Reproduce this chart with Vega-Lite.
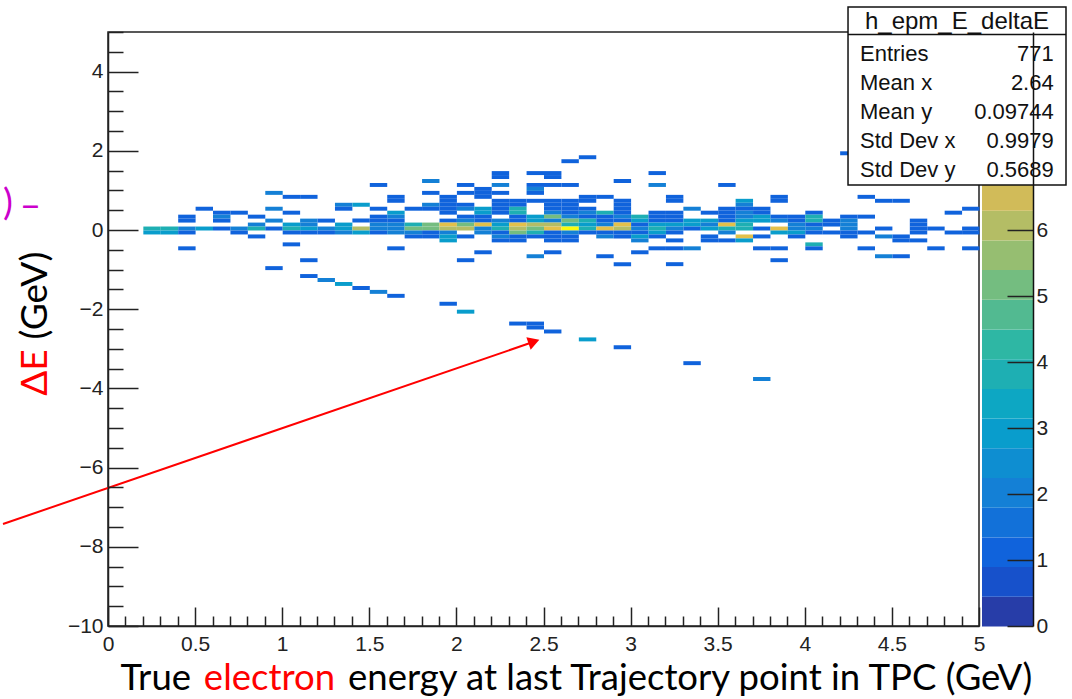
{
  "$schema": "https://vega.github.io/schema/vega-lite/v6.json",
  "background": "white",
  "padding": {"left": 1, "top": 6, "right": 4, "bottom": 0},
  "bounds": "flush",
  "spacing": 3,
  "config": {
    "view": {"stroke": "#222", "strokeWidth": 1.5},
    "axis": {
      "labelFont": "Liberation Sans", "labelFontSize": 21, "labelColor": "#222",
      "domainColor": "#222", "domainWidth": 1.5, "tickColor": "#222", "tickWidth": 1.5,
      "grid": false, "labelFlush": false, "labelOverlap": false, "title": null
    },
    "text": {"font": "Liberation Sans"}
  },
  "datasets": {
    "cells": [
      {"x":0.2,"y":0,"n":4},{"x":0.2,"y":-0.1,"n":3},
      {"x":0.3,"y":0,"n":4},{"x":0.3,"y":-0.1,"n":3},
      {"x":0.4,"y":0.3,"n":1},{"x":0.4,"y":0.2,"n":1},{"x":0.4,"y":0,"n":2},{"x":0.4,"y":-0.1,"n":1},{"x":0.4,"y":-0.5,"n":1},
      {"x":0.5,"y":0.5,"n":1},{"x":0.5,"y":0,"n":3},
      {"x":0.6,"y":0.4,"n":1},{"x":0.6,"y":0.3,"n":2},{"x":0.6,"y":0.2,"n":1},{"x":0.6,"y":0,"n":1},
      {"x":0.7,"y":0.4,"n":1},{"x":0.7,"y":0,"n":2},{"x":0.7,"y":-0.1,"n":1},
      {"x":0.8,"y":0.3,"n":1},{"x":0.8,"y":0.1,"n":2},{"x":0.8,"y":0,"n":4},{"x":0.8,"y":-0.2,"n":1},
      {"x":0.9,"y":0.9,"n":2},{"x":0.9,"y":0.5,"n":2},{"x":0.9,"y":0.2,"n":2},{"x":0.9,"y":0,"n":1},{"x":0.9,"y":-1,"n":1},
      {"x":1,"y":0.8,"n":1},{"x":1,"y":0.4,"n":1},{"x":1,"y":0.1,"n":3},{"x":1,"y":0,"n":4},{"x":1,"y":-0.1,"n":1},{"x":1,"y":-0.4,"n":1},
      {"x":1.1,"y":0.8,"n":1},{"x":1.1,"y":0.2,"n":2},{"x":1.1,"y":0.1,"n":2},{"x":1.1,"y":0,"n":3},{"x":1.1,"y":-0.1,"n":1},{"x":1.1,"y":-0.8,"n":1},{"x":1.1,"y":-1.2,"n":1},
      {"x":1.2,"y":0.2,"n":1},{"x":1.2,"y":0,"n":2},{"x":1.2,"y":-0.1,"n":1},{"x":1.2,"y":-1.3,"n":2},
      {"x":1.3,"y":0.6,"n":2},{"x":1.3,"y":0.5,"n":1},{"x":1.3,"y":0.1,"n":3},{"x":1.3,"y":0,"n":3},{"x":1.3,"y":-0.1,"n":2},{"x":1.3,"y":-1.4,"n":3},
      {"x":1.4,"y":0.6,"n":3},{"x":1.4,"y":0.2,"n":1},{"x":1.4,"y":0,"n":6},{"x":1.4,"y":-0.1,"n":3},{"x":1.4,"y":-1.5,"n":1},
      {"x":1.5,"y":1.1,"n":1},{"x":1.5,"y":0.5,"n":1},{"x":1.5,"y":0.3,"n":1},{"x":1.5,"y":0.2,"n":1},{"x":1.5,"y":0.1,"n":2},{"x":1.5,"y":0,"n":2},{"x":1.5,"y":-0.1,"n":1},{"x":1.5,"y":-1.6,"n":2},
      {"x":1.6,"y":0.8,"n":1},{"x":1.6,"y":0.7,"n":1},{"x":1.6,"y":0.4,"n":3},{"x":1.6,"y":0.3,"n":2},{"x":1.6,"y":0.2,"n":1},{"x":1.6,"y":0.1,"n":2},{"x":1.6,"y":0,"n":2},{"x":1.6,"y":-0.1,"n":2},{"x":1.6,"y":-0.5,"n":1},{"x":1.6,"y":-1.7,"n":1},
      {"x":1.7,"y":0.5,"n":1},{"x":1.7,"y":0.1,"n":4},{"x":1.7,"y":0,"n":5},{"x":1.7,"y":-0.1,"n":2},{"x":1.7,"y":-0.2,"n":1},
      {"x":1.8,"y":1.2,"n":2},{"x":1.8,"y":0.9,"n":1},{"x":1.8,"y":0.6,"n":2},{"x":1.8,"y":0.5,"n":1},{"x":1.8,"y":0.1,"n":5},{"x":1.8,"y":0,"n":5},{"x":1.8,"y":-0.1,"n":1},{"x":1.8,"y":-0.2,"n":1},
      {"x":1.9,"y":0.8,"n":1},{"x":1.9,"y":0.7,"n":1},{"x":1.9,"y":0.6,"n":1},{"x":1.9,"y":0.5,"n":1},{"x":1.9,"y":0.4,"n":1},{"x":1.9,"y":0.2,"n":1},{"x":1.9,"y":0.1,"n":7},{"x":1.9,"y":0,"n":6},{"x":1.9,"y":-0.1,"n":2},{"x":1.9,"y":-0.2,"n":3},{"x":1.9,"y":-0.3,"n":3},{"x":1.9,"y":-1.9,"n":1},
      {"x":2,"y":1.1,"n":1},{"x":2,"y":0.9,"n":1},{"x":2,"y":0.6,"n":1},{"x":2,"y":0.5,"n":2},{"x":2,"y":0.3,"n":1},{"x":2,"y":0.2,"n":2},{"x":2,"y":0.1,"n":5},{"x":2,"y":0,"n":6},{"x":2,"y":-0.2,"n":1},{"x":2,"y":-0.8,"n":1},{"x":2,"y":-2.1,"n":3},
      {"x":2.1,"y":1,"n":1},{"x":2.1,"y":0.9,"n":1},{"x":2.1,"y":0.8,"n":1},{"x":2.1,"y":0.5,"n":3},{"x":2.1,"y":0.4,"n":3},{"x":2.1,"y":0.3,"n":1},{"x":2.1,"y":0.2,"n":1},{"x":2.1,"y":0.1,"n":7},{"x":2.1,"y":0,"n":2},{"x":2.1,"y":-0.1,"n":2},{"x":2.1,"y":-0.6,"n":1},
      {"x":2.2,"y":1.4,"n":1},{"x":2.2,"y":1.3,"n":1},{"x":2.2,"y":1.1,"n":2},{"x":2.2,"y":0.9,"n":1},{"x":2.2,"y":0.7,"n":1},{"x":2.2,"y":0.6,"n":1},{"x":2.2,"y":0.5,"n":1},{"x":2.2,"y":0.4,"n":1},{"x":2.2,"y":0.2,"n":2},{"x":2.2,"y":0.1,"n":3},{"x":2.2,"y":0,"n":4},{"x":2.2,"y":-0.1,"n":1},{"x":2.2,"y":-0.2,"n":2},{"x":2.2,"y":-0.3,"n":1},
      {"x":2.3,"y":0.7,"n":1},{"x":2.3,"y":0.6,"n":1},{"x":2.3,"y":0.5,"n":4},{"x":2.3,"y":0.4,"n":4},{"x":2.3,"y":0.3,"n":1},{"x":2.3,"y":0.2,"n":1},{"x":2.3,"y":0.1,"n":7},{"x":2.3,"y":0,"n":6},{"x":2.3,"y":-0.1,"n":5},{"x":2.3,"y":-0.2,"n":1},{"x":2.3,"y":-0.3,"n":1},{"x":2.3,"y":-2.4,"n":1},
      {"x":2.4,"y":1.4,"n":1},{"x":2.4,"y":1.1,"n":1},{"x":2.4,"y":1,"n":2},{"x":2.4,"y":0.9,"n":1},{"x":2.4,"y":0.7,"n":1},{"x":2.4,"y":0.3,"n":3},{"x":2.4,"y":0.2,"n":3},{"x":2.4,"y":0.1,"n":6},{"x":2.4,"y":0,"n":5},{"x":2.4,"y":-0.1,"n":4},{"x":2.4,"y":-0.2,"n":1},{"x":2.4,"y":-0.7,"n":2},{"x":2.4,"y":-2.4,"n":1},{"x":2.4,"y":-2.5,"n":1},
      {"x":2.5,"y":1.4,"n":1},{"x":2.5,"y":1.3,"n":1},{"x":2.5,"y":1.1,"n":1},{"x":2.5,"y":0.7,"n":1},{"x":2.5,"y":0.6,"n":1},{"x":2.5,"y":0.5,"n":1},{"x":2.5,"y":0.4,"n":2},{"x":2.5,"y":0.3,"n":5},{"x":2.5,"y":0.2,"n":2},{"x":2.5,"y":0.1,"n":6},{"x":2.5,"y":0,"n":7},{"x":2.5,"y":-0.1,"n":1},{"x":2.5,"y":-0.2,"n":1},{"x":2.5,"y":-0.3,"n":1},{"x":2.5,"y":-0.6,"n":1},{"x":2.5,"y":-2.6,"n":1},
      {"x":2.6,"y":1.7,"n":1},{"x":2.6,"y":1.1,"n":1},{"x":2.6,"y":0.7,"n":1},{"x":2.6,"y":0.6,"n":1},{"x":2.6,"y":0.5,"n":1},{"x":2.6,"y":0.4,"n":1},{"x":2.6,"y":0.3,"n":2},{"x":2.6,"y":0.2,"n":5},{"x":2.6,"y":0.1,"n":4},{"x":2.6,"y":0,"n":9},{"x":2.6,"y":-0.1,"n":2},{"x":2.6,"y":-0.2,"n":1},{"x":2.6,"y":-0.3,"n":1},
      {"x":2.7,"y":1.8,"n":1},{"x":2.7,"y":0.8,"n":1},{"x":2.7,"y":0.7,"n":1},{"x":2.7,"y":0.5,"n":1},{"x":2.7,"y":0.4,"n":2},{"x":2.7,"y":0.3,"n":1},{"x":2.7,"y":0.2,"n":4},{"x":2.7,"y":0.1,"n":3},{"x":2.7,"y":0,"n":4},{"x":2.7,"y":-0.1,"n":1},{"x":2.7,"y":-2.8,"n":3},
      {"x":2.8,"y":0.8,"n":1},{"x":2.8,"y":0.4,"n":4},{"x":2.8,"y":0.3,"n":1},{"x":2.8,"y":0.2,"n":1},{"x":2.8,"y":0.1,"n":2},{"x":2.8,"y":0,"n":7},{"x":2.8,"y":-0.1,"n":1},{"x":2.8,"y":-0.2,"n":2},{"x":2.8,"y":-0.7,"n":1},
      {"x":2.9,"y":1.2,"n":1},{"x":2.9,"y":0.7,"n":1},{"x":2.9,"y":0.6,"n":1},{"x":2.9,"y":0.5,"n":1},{"x":2.9,"y":0.4,"n":1},{"x":2.9,"y":0.3,"n":2},{"x":2.9,"y":0.2,"n":1},{"x":2.9,"y":0.1,"n":7},{"x":2.9,"y":0,"n":6},{"x":2.9,"y":-0.1,"n":1},{"x":2.9,"y":-0.2,"n":1},{"x":2.9,"y":-0.9,"n":1},{"x":2.9,"y":-3,"n":1},
      {"x":3,"y":0.3,"n":4},{"x":3,"y":0.2,"n":3},{"x":3,"y":0.1,"n":1},{"x":3,"y":0,"n":2},{"x":3,"y":-0.1,"n":1},{"x":3,"y":-0.2,"n":3},{"x":3,"y":-0.3,"n":2},{"x":3,"y":-0.6,"n":1},
      {"x":3.1,"y":1.4,"n":1},{"x":3.1,"y":1.1,"n":2},{"x":3.1,"y":0.4,"n":1},{"x":3.1,"y":0.3,"n":1},{"x":3.1,"y":0.2,"n":1},{"x":3.1,"y":0.1,"n":3},{"x":3.1,"y":0,"n":4},{"x":3.1,"y":-0.1,"n":3},{"x":3.1,"y":-0.2,"n":1},{"x":3.1,"y":-0.5,"n":1},
      {"x":3.2,"y":0.8,"n":1},{"x":3.2,"y":0.7,"n":1},{"x":3.2,"y":0.4,"n":1},{"x":3.2,"y":0.3,"n":1},{"x":3.2,"y":0.2,"n":1},{"x":3.2,"y":0.1,"n":3},{"x":3.2,"y":0,"n":2},{"x":3.2,"y":-0.1,"n":1},{"x":3.2,"y":-0.3,"n":1},{"x":3.2,"y":-0.5,"n":1},{"x":3.2,"y":-0.9,"n":1},
      {"x":3.3,"y":0.5,"n":2},{"x":3.3,"y":0.2,"n":3},{"x":3.3,"y":0.1,"n":3},{"x":3.3,"y":0,"n":1},{"x":3.3,"y":-0.5,"n":2},{"x":3.3,"y":-3.4,"n":1},
      {"x":3.4,"y":0.4,"n":1},{"x":3.4,"y":0.2,"n":3},{"x":3.4,"y":0.1,"n":2},{"x":3.4,"y":0,"n":3},{"x":3.4,"y":-0.2,"n":1},{"x":3.4,"y":-0.3,"n":1},
      {"x":3.5,"y":1.1,"n":1},{"x":3.5,"y":0.5,"n":1},{"x":3.5,"y":0.4,"n":1},{"x":3.5,"y":0.3,"n":1},{"x":3.5,"y":0.2,"n":1},{"x":3.5,"y":0.1,"n":7},{"x":3.5,"y":0,"n":4},{"x":3.5,"y":-0.1,"n":2},{"x":3.5,"y":-0.3,"n":1},
      {"x":3.6,"y":0.7,"n":3},{"x":3.6,"y":0.6,"n":2},{"x":3.6,"y":0.5,"n":1},{"x":3.6,"y":0.4,"n":2},{"x":3.6,"y":0.3,"n":2},{"x":3.6,"y":0.2,"n":3},{"x":3.6,"y":0.1,"n":4},{"x":3.6,"y":0,"n":4},{"x":3.6,"y":-0.2,"n":7},{"x":3.6,"y":-0.3,"n":3},
      {"x":3.7,"y":0.5,"n":1},{"x":3.7,"y":0.4,"n":1},{"x":3.7,"y":0.3,"n":3},{"x":3.7,"y":0.2,"n":3},{"x":3.7,"y":0,"n":1},{"x":3.7,"y":-0.2,"n":1},{"x":3.7,"y":-0.5,"n":1},{"x":3.7,"y":-3.8,"n":2},
      {"x":3.8,"y":0.8,"n":1},{"x":3.8,"y":0.7,"n":1},{"x":3.8,"y":0.3,"n":1},{"x":3.8,"y":0.2,"n":2},{"x":3.8,"y":0,"n":7},{"x":3.8,"y":-0.1,"n":3},{"x":3.8,"y":-0.5,"n":1},{"x":3.8,"y":-0.8,"n":1},
      {"x":3.9,"y":0.3,"n":1},{"x":3.9,"y":0.2,"n":1},{"x":3.9,"y":0.1,"n":2},{"x":3.9,"y":0,"n":2},{"x":3.9,"y":-0.1,"n":3},{"x":3.9,"y":-0.2,"n":1},
      {"x":4,"y":0.4,"n":1},{"x":4,"y":0.3,"n":4},{"x":4,"y":0.2,"n":4},{"x":4,"y":0.1,"n":1},{"x":4,"y":0,"n":2},{"x":4,"y":-0.1,"n":1},{"x":4,"y":-0.4,"n":4},{"x":4,"y":-0.5,"n":1},
      {"x":4.1,"y":0.2,"n":1},{"x":4.1,"y":0.1,"n":1},{"x":4.1,"y":-0.1,"n":1},
      {"x":4.2,"y":1.9,"n":1},{"x":4.2,"y":0.3,"n":1},{"x":4.2,"y":0.2,"n":2},{"x":4.2,"y":0.1,"n":2},{"x":4.2,"y":0,"n":2},{"x":4.2,"y":-0.1,"n":1},{"x":4.2,"y":-0.2,"n":1},
      {"x":4.3,"y":0.8,"n":1},{"x":4.3,"y":0.3,"n":1},{"x":4.3,"y":-0.1,"n":1},{"x":4.3,"y":-0.5,"n":1},
      {"x":4.4,"y":0.7,"n":1},{"x":4.4,"y":0,"n":1},{"x":4.4,"y":-0.2,"n":2},{"x":4.4,"y":-0.7,"n":2},
      {"x":4.5,"y":0.7,"n":1},{"x":4.5,"y":-0.2,"n":1},{"x":4.5,"y":-0.3,"n":1},{"x":4.5,"y":-0.7,"n":1},
      {"x":4.6,"y":0.2,"n":1},{"x":4.6,"y":0.1,"n":1},{"x":4.6,"y":0,"n":1},{"x":4.6,"y":-0.1,"n":1},{"x":4.6,"y":-0.3,"n":1},
      {"x":4.7,"y":0,"n":1},{"x":4.7,"y":-0.5,"n":1},
      {"x":4.8,"y":0.4,"n":1},{"x":4.8,"y":-0.1,"n":1},
      {"x":4.9,"y":0.5,"n":1},{"x":4.9,"y":0,"n":1},{"x":4.9,"y":-0.1,"n":1},{"x":4.9,"y":-0.5,"n":1}
    ],
    "bands": [
      {"z":0},{"z":0.45},{"z":0.9},{"z":1.35},{"z":1.8},{"z":2.25},{"z":2.7},{"z":3.15},{"z":3.6},{"z":4.05},
      {"z":4.5},{"z":4.95},{"z":5.4},{"z":5.85},{"z":6.3},{"z":6.75},{"z":7.2},{"z":7.65},{"z":8.1},{"z":8.55}
    ]
  },
  "hconcat": [
    {
      "width": 871,
      "height": 594,
      "layer": [
        {
          "data": {"name": "cells"},
          "mark": {"type": "rect"},
          "encoding": {
            "x": {
              "field": "x", "type": "quantitative", "bin": {"binned": true, "step": 0.1},
              "scale": {"domain": [0, 5], "nice": false, "zero": false},
              "axis": {
                "values": [0,0.1,0.2,0.3,0.4,0.5,0.6,0.7,0.8,0.9,1,1.1,1.2,1.3,1.4,1.5,1.6,1.7,1.8,1.9,2,2.1,2.2,2.3,2.4,2.5,2.6,2.7,2.8,2.9,3,3.1,3.2,3.3,3.4,3.5,3.6,3.7,3.8,3.9,4,4.1,4.2,4.3,4.4,4.5,4.6,4.7,4.8,4.9,5],
                "format": "~g",
                "labelExpr": "abs(datum.value*2 - round(datum.value*2)) < 0.001 ? datum.label : ''",
                "tickSize": {"condition": {"test": "abs(datum.value*2 - round(datum.value*2)) < 0.001", "value": -19}, "value": -10},
                "labelPadding": 26
              }
            },
            "y": {
              "field": "y", "type": "quantitative", "bin": {"binned": true, "step": 0.1},
              "scale": {"domain": [-10, 5], "nice": false, "zero": false},
              "axis": {
                "values": [-10,-9.5,-9,-8.5,-8,-7.5,-7,-6.5,-6,-5.5,-5,-4.5,-4,-3.5,-3,-2.5,-2,-1.5,-1,-0.5,0,0.5,1,1.5,2,2.5,3,3.5,4,4.5,5],
                "format": "~g",
                "labelExpr": "abs(datum.value/2 - round(datum.value/2)) < 0.001 ? datum.label : ''",
                "tickSize": {"condition": {"test": "abs(datum.value/2 - round(datum.value/2)) < 0.001", "value": -30}, "value": -15},
                "labelPadding": 35
              }
            },
            "color": {
              "field": "n", "type": "quantitative",
              "scale": {
                "type": "threshold",
                "domain": [0.45,0.9,1.35,1.8,2.25,2.7,3.15,3.6,4.05,4.5,4.95,5.4,5.85,6.3,6.75,7.2,7.65,8.1,8.55],
                "range": ["#273da8","#1751cb","#1063dc","#1271d9","#1480d6","#0e8ed1","#099dcc","#0da7c3","#1eafb3","#2eb7a4","#52ba91","#74bd80","#96be71","#b4bd65","#d1bb59","#e3c04a","#f5c63a","#fdd32a","#fbe81c","#f9fb0e"]
              },
              "legend": null
            }
          }
        },
        {
          "data": {"values": [{}]},
          "mark": {"type": "rule", "color": "#ff0000", "strokeWidth": 2},
          "encoding": {
            "x": {"datum": -0.6028, "type": "quantitative"},
            "y": {"datum": -7.424, "type": "quantitative"},
            "x2": {"datum": 2.44},
            "y2": {"datum": -2.83}
          }
        },
        {
          "data": {"values": [{}]},
          "mark": {"type": "point", "shape": "triangle-right", "filled": true, "color": "#ff0000", "opacity": 1, "size": 175, "angle": 341},
          "encoding": {
            "x": {"datum": 2.445, "type": "quantitative"},
            "y": {"datum": -2.82, "type": "quantitative"}
          }
        },
        {
          "data": {"values": [{}]},
          "mark": {"type": "text", "text": "ΔE", "angle": 270, "font": "Lato", "fontSize": 37, "color": "#ff0000", "align": "center", "baseline": "alphabetic"},
          "encoding": {
            "x": {"datum": -0.353, "type": "quantitative"},
            "y": {"datum": -3.598, "type": "quantitative"}
          }
        },
        {
          "data": {"values": [{}]},
          "mark": {"type": "text", "text": "(GeV)", "angle": 270, "font": "Lato", "fontSize": 37, "color": "#000000", "align": "center", "baseline": "alphabetic"},
          "encoding": {
            "x": {"datum": -0.353, "type": "quantitative"},
            "y": {"datum": -1.654, "type": "quantitative"}
          }
        },
        {
          "data": {"values": [{}]},
          "mark": {"type": "text", "text": "True", "font": "Lato", "fontSize": 36.5, "color": "#000000", "align": "right", "baseline": "alphabetic"},
          "encoding": {
            "x": {"datum": 0.4765, "type": "quantitative"},
            "y": {"datum": -11.62, "type": "quantitative"}
          }
        },
        {
          "data": {"values": [{}]},
          "mark": {"type": "text", "text": "electron", "font": "Lato", "fontSize": 36.5, "color": "#ff0000", "align": "center", "baseline": "alphabetic"},
          "encoding": {
            "x": {"datum": 0.9271, "type": "quantitative"},
            "y": {"datum": -11.62, "type": "quantitative"}
          }
        },
        {
          "data": {"values": [{}]},
          "mark": {"type": "text", "text": "energy at last Trajectory point in TPC (GeV)", "font": "Lato", "fontSize": 36.5, "color": "#000000", "align": "left", "baseline": "alphabetic"},
          "encoding": {
            "x": {"datum": 1.3777, "type": "quantitative"},
            "y": {"datum": -11.62, "type": "quantitative"}
          }
        },
        {
          "data": {"values": [{}]},
          "mark": {"type": "text", "text": ")", "font": "Lato", "fontSize": 37, "color": "#cc00cc", "align": "left", "baseline": "middle"},
          "encoding": {
            "x": {"datum": -0.6028, "type": "quantitative"},
            "y": {"datum": 0.657, "type": "quantitative"}
          }
        },
        {
          "data": {"values": [{}]},
          "mark": {"type": "text", "text": "–", "font": "Lato", "fontSize": 37, "color": "#cc00cc", "align": "center", "baseline": "alphabetic"},
          "encoding": {
            "x": {"datum": -0.4449, "type": "quantitative"},
            "y": {"datum": 0.303, "type": "quantitative"}
          }
        }
      ]
    },
    {
      "width": 51,
      "height": 594,
      "view": {"stroke": null},
      "layer": [
        {
          "data": {"name": "bands"},
          "mark": {"type": "rect"},
          "encoding": {
            "x": {"datum": 0, "type": "quantitative", "scale": {"domain": [0, 1], "nice": false, "zero": false}, "axis": null},
            "x2": {"datum": 1},
            "y": {
              "field": "z", "type": "quantitative", "bin": {"binned": true, "step": 0.45},
              "scale": {"domain": [0, 9], "nice": false, "zero": false},
              "axis": {"orient": "right", "values": [0,1,2,3,4,5,6], "format": "d", "tickSize": -26, "labelPadding": 29, "domainColor": "#111"}
            },
            "color": {
              "field": "z", "type": "quantitative",
              "scale": {
                "type": "threshold",
                "domain": [0.45,0.9,1.35,1.8,2.25,2.7,3.15,3.6,4.05,4.5,4.95,5.4,5.85,6.3,6.75,7.2,7.65,8.1,8.55],
                "range": ["#273da8","#1751cb","#1063dc","#1271d9","#1480d6","#0e8ed1","#099dcc","#0da7c3","#1eafb3","#2eb7a4","#52ba91","#74bd80","#96be71","#b4bd65","#d1bb59","#e3c04a","#f5c63a","#fdd32a","#fbe81c","#f9fb0e"]
              },
              "legend": null
            }
          }
        },
        {
          "data": {"values": [{}]},
          "mark": {"type": "rect", "fill": "white", "stroke": "#111", "strokeWidth": 1.5},
          "encoding": {
            "x": {"datum": -2.627, "type": "quantitative"},
            "x2": {"datum": 1.647},
            "y": {"datum": 9.379, "type": "quantitative"},
            "y2": {"datum": 6.682}
          }
        },
        {
          "data": {"values": [{}]},
          "mark": {"type": "rule", "color": "#111", "strokeWidth": 1.5},
          "encoding": {
            "x": {"datum": -2.627, "type": "quantitative"},
            "x2": {"datum": 1.647},
            "y": {"datum": 8.962, "type": "quantitative"}
          }
        },
        {
          "data": {"values": [{}]},
          "mark": {"type": "text", "text": "h_epm_E_deltaE", "fontSize": 24, "color": "#111", "align": "center", "baseline": "alphabetic"},
          "encoding": {
            "x": {"datum": -0.49, "type": "quantitative"},
            "y": {"datum": 9.041, "type": "quantitative"}
          }
        },
        {
          "data": {"values": [{}]},
          "mark": {"type": "text", "text": ["Entries", "Mean x", "Mean y", "Std Dev x", "Std Dev y"], "lineHeight": 28.9, "fontSize": 22, "color": "#111", "align": "left", "baseline": "alphabetic"},
          "encoding": {
            "x": {"datum": -2.392, "type": "quantitative"},
            "y": {"datum": 8.561, "type": "quantitative"}
          }
        },
        {
          "data": {"values": [{}]},
          "mark": {"type": "text", "text": ["771", "2.64", "0.09744", "0.9979", "0.5689"], "lineHeight": 28.9, "fontSize": 22, "color": "#111", "align": "right", "baseline": "alphabetic"},
          "encoding": {
            "x": {"datum": 1.406, "type": "quantitative"},
            "y": {"datum": 8.561, "type": "quantitative"}
          }
        }
      ]
    }
  ]
}
